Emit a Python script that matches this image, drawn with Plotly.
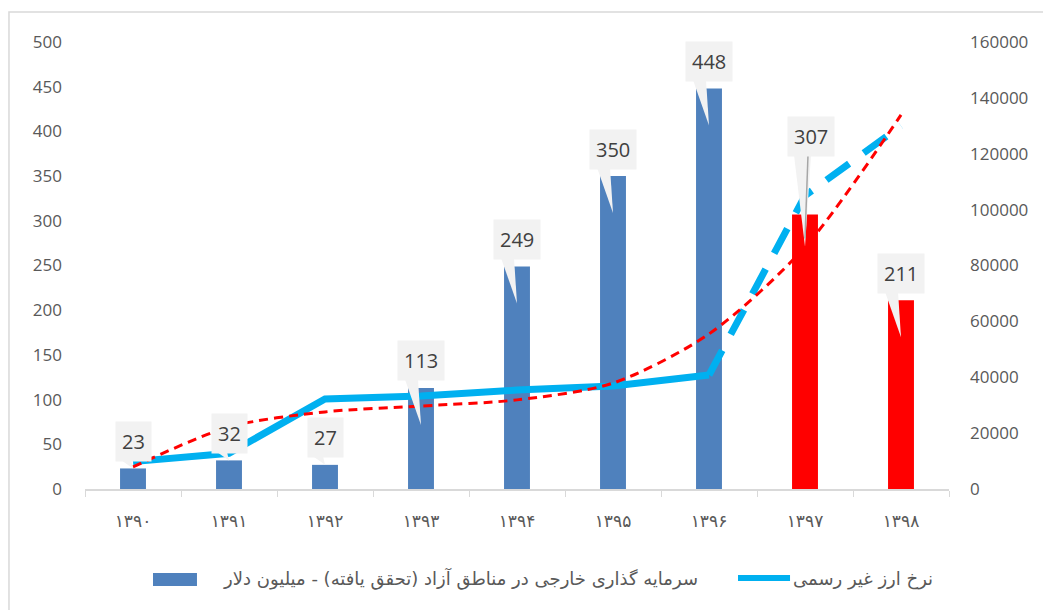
import plotly.graph_objects as go

# data
years = ["۱۳۹۰", "۱۳۹۱", "۱۳۹۲", "۱۳۹۳", "۱۳۹۴", "۱۳۹۵", "۱۳۹۶", "۱۳۹۷", "۱۳۹۸"]
investment = [23, 32, 27, 113, 249, 350, 448, 307, 211]
bar_colors = ["#4F81BD"] * 7 + ["#FF0000"] * 2
fx_rate = [9800, 12800, 32200, 33300, 35400, 36900, 40800, 105000, 130000]
trend = [7900, 22200, 27600, 29700, 31900, 37900, 55500, 86600, 133900]

bar_name = "سرمایه گذاری خارجی در مناطق آزاد (تحقق یافته) - میلیون دلار"
line_name = "نرخ ارز غیر رسمی"

tick_font = dict(family="Open Sans", size=17, color="#595959")
pos = list(range(len(years)))

# pixel -> data unit helpers (plot area is 864 x 447 px)
PX_Y = 500 / 447
PX_X = len(years) / 864

fig = go.Figure()

fig.add_trace(
    go.Bar(
        x=pos,
        y=investment,
        width=0.27,
        marker=dict(color=bar_colors, line=dict(width=0)),
        name=bar_name,
        yaxis="y",
    )
)

# solid part of the exchange rate line, then the dashed tail
fig.add_trace(
    go.Scatter(
        x=pos[:7],
        y=fx_rate[:7],
        mode="lines",
        line=dict(color="#00B0F0", width=7),
        name=line_name,
        yaxis="y2",
    )
)
fig.add_trace(
    go.Scatter(
        x=pos[6:],
        y=fx_rate[6:],
        mode="lines",
        line=dict(color="#00B0F0", width=7, dash="28px,18px"),
        showlegend=False,
        yaxis="y2",
    )
)

# trendline
fig.add_trace(
    go.Scatter(
        x=pos,
        y=trend,
        mode="lines",
        line=dict(color="#FF0000", width=3, dash="9px,6px", shape="spline", smoothing=0.8),
        showlegend=False,
        yaxis="y2",
    )
)

# callout labels with their pointers
for i, v in enumerate(investment):
    if i == 7:
        lift, dx, depth, b0, b1 = 78, 6, 32, -11, 6
    elif v > 100:
        lift, dx, depth, b0, b1 = 27, 0, 37, -16, -3
    else:
        lift, dx, depth, b0, b1 = 27, 0, 0, -12, -2
    base_y = v + (lift - 18.5) * PX_Y
    tip_y = v - depth * PX_Y
    fig.add_shape(
        type="path",
        xref="x",
        yref="y",
        path=f"M {i + b0 * PX_X},{base_y} L {i + b1 * PX_X},{base_y} L {i},{tip_y} Z",
        fillcolor="#F2F2F2",
        line=dict(width=0),
    )
    if i == 7:
        fig.add_shape(
            type="line",
            xref="x",
            yref="y",
            x0=i + 3 * PX_X,
            y0=base_y,
            x1=i,
            y1=tip_y + 8 * PX_Y,
            line=dict(color="#A6A6A6", width=1.5),
        )
    fig.add_annotation(
        x=i,
        y=v,
        yref="y",
        text=str(v),
        showarrow=False,
        xshift=dx,
        yshift=lift,
        bgcolor="#F2F2F2",
        borderpad=6,
        font=dict(family="Open Sans", size=20, color="#404040"),
    )

# chart border
fig.add_shape(
    type="rect",
    xref="paper",
    yref="paper",
    x0=-0.088,
    x1=1.2,
    y0=-0.4,
    y1=1.067,
    line=dict(color="#D9D9D9", width=1.5),
    fillcolor="rgba(0,0,0,0)",
    layer="below",
)

# legend drawn by hand to keep the wide swatches
legend_font = dict(family="DejaVu Sans", size=18, color="#595959")
fig.add_shape(
    type="rect", xref="paper", yref="paper",
    x0=0.0787, x1=0.1296, y0=-0.2170, y1=-0.1879,
    fillcolor="#4F81BD", line=dict(width=0),
)
fig.add_annotation(
    xref="paper", yref="paper", x=0.712, y=-0.2013,
    xanchor="right", yanchor="middle", text=bar_name,
    showarrow=False, font=legend_font,
)
fig.add_shape(
    type="line", xref="paper", yref="paper",
    x0=0.7558, x1=0.8160, y0=-0.1991, y1=-0.1991,
    line=dict(color="#00B0F0", width=6),
)
fig.add_annotation(
    xref="paper", yref="paper", x=0.984, y=-0.2013,
    xanchor="right", yanchor="middle", text=line_name,
    showarrow=False, font=legend_font,
)

fig.update_layout(
    width=1051,
    height=610,
    margin=dict(l=77, r=110, t=34, b=129),
    plot_bgcolor="white",
    paper_bgcolor="white",
    showlegend=False,
    xaxis=dict(
        range=[-0.5, len(years) - 0.5],
        tickmode="array",
        tickvals=pos,
        ticktext=years,
        ticks="",
        showline=True,
        linecolor="#D9D9D9",
        linewidth=1.5,
        minor=dict(
            tickmode="array",
            tickvals=[p - 0.5 for p in pos] + [len(years) - 0.5],
            ticks="outside",
            ticklen=6,
            tickcolor="#D9D9D9",
            showgrid=False,
        ),
        tickfont=dict(family="DejaVu Sans", size=17, color="#595959"),
        ticklabelstandoff=16,
        showgrid=False,
        zeroline=False,
    ),
    yaxis=dict(
        range=[0, 500],
        dtick=50,
        showgrid=False,
        zeroline=False,
        tickfont=tick_font,
        ticklabelstandoff=22,
    ),
    yaxis2=dict(
        range=[0, 160000],
        dtick=20000,
        tickformat="d",
        overlaying="y",
        side="right",
        showgrid=False,
        zeroline=False,
        tickfont=tick_font,
        ticklabelstandoff=20,
    ),
)

fig.write_html("out.html")
